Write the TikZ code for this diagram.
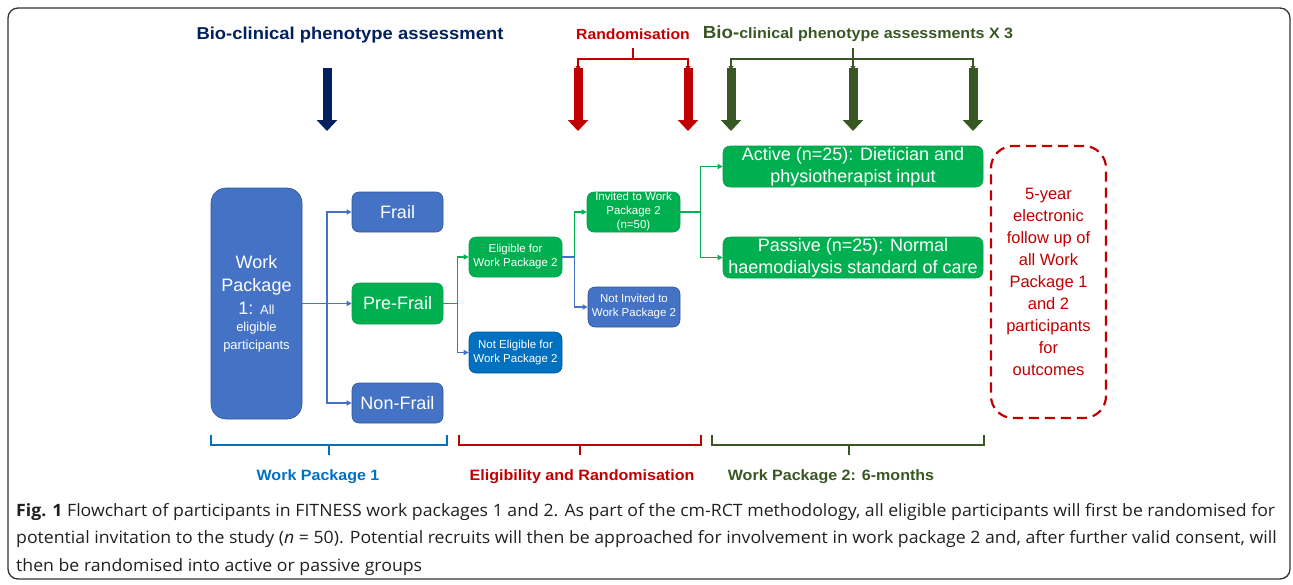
\documentclass[tikz,border=0pt]{standalone}
\usepackage{fontspec}
\setmainfont{Liberation Sans}
\newfontfamily\hdrfont[FakeStretch=1.07]{Liberation Sans}
\newfontfamily\capfont[FakeStretch=1.04]{Open Sans}
\usetikzlibrary{arrows.meta}
\definecolor{boxblue}{RGB}{68,114,196}
\definecolor{brightblue}{RGB}{0,112,192}
\definecolor{boxgreen}{RGB}{0,176,80}
\definecolor{navy}{RGB}{0,32,96}
\definecolor{darkred}{RGB}{192,0,0}
\definecolor{darkgreen}{RGB}{56,87,35}
\definecolor{captext}{RGB}{35,31,32}
\newcommand\fbig{\fontsize{18}{18}\selectfont}
\newcommand\fmid{\fontsize{18}{22}\selectfont}
\newcommand\fred{\fontsize{16.5}{22}\selectfont}
\newcommand\fsml{\fontsize{13}{18}\selectfont}
\newcommand\ftiny{\fontsize{11.5}{14}\selectfont}
\begin{document}
\begin{tikzpicture}[x=1pt,y=-1pt]
\tikzstyle{every node}=[inner sep=0pt]
\tikzstyle{box}=[rectangle,rounded corners=7pt,text=white,align=center,line width=0.6pt]
\tikzstyle{bluebox}=[box,fill=boxblue,draw=boxblue!75!black]
\tikzstyle{greenbox}=[box,fill=boxgreen,draw=boxgreen!90!black]
\tikzstyle{brightbox}=[box,fill=brightblue,draw=brightblue!80!black]
\tikzstyle{link}=[line width=1.6pt,-{Triangle[length=5pt,width=5pt]}]
\tikzstyle{fat}=[line width=9pt,-{Triangle[length=11pt,width=20pt]}]
\tikzstyle{thinarr}=[line width=1.8pt,-{Triangle[length=4pt,width=5pt]}]
\tikzstyle{hdr}=[font=\hdrfont\bfseries\fontsize{15}{18}\selectfont]
\tikzstyle{brace}=[line width=1.6pt]
\useasboundingbox (0,0) rectangle (1293,584);
\draw[black!80,line width=1.3pt,rounded corners=10pt] (8,8) rectangle (1290,579);
\node[hdr,text=navy,font=\hdrfont\bfseries\fontsize{17.2}{20}\selectfont] (bio) at (350,35) {Bio-clinical phenotype assessment};
\node[hdr,text=darkred,font=\hdrfont\bfseries\fontsize{14.7}{18}\selectfont] (rand) at (633,34) {Randomisation};
\node[hdr,text=darkgreen] (bio3) at (858,34) {{\fontsize{17.5}{20}\selectfont Bio-}clinical phenotype assessments X 3};
\coordinate (n1) at (327,68); \coordinate (n2) at (327,131);
\coordinate (r1) at (578,68); \coordinate (r2) at (578,131);
\coordinate (r3) at (688,68); \coordinate (r4) at (688,131);
\coordinate (g1) at (731,68); \coordinate (g2) at (731,131);
\coordinate (g3) at (853,68); \coordinate (g4) at (853,131);
\coordinate (g5) at (973,68); \coordinate (g6) at (973,131);
\draw[fat,navy] (n1) -- (n2);
\draw[fat,darkred] (r1) -- (r2);
\draw[fat,darkred] (r3) -- (r4);
\draw[fat,darkgreen] (g1) -- (g2);
\draw[fat,darkgreen] (g3) -- (g4);
\draw[fat,darkgreen] (g5) -- (g6);
\draw[darkred,line width=1.8pt] (633,48) -- (633,59) coordinate (rj);
\draw[thinarr,darkred] (rj) -| ([yshift=-2pt]r1);
\draw[thinarr,darkred] (rj) -| ([yshift=-2pt]r3);
\draw[thinarr,darkgreen] (853,48) -- ([yshift=-2pt]g3);
\coordinate (gj) at (853,59);
\draw[thinarr,darkgreen] (gj) -| ([yshift=-2pt]g1);
\draw[thinarr,darkgreen] (gj) -| ([yshift=-2pt]g5);
\node[bluebox,minimum width=91pt,minimum height=231pt,rounded corners=15pt,font=\fbig] (wp1) at (256.5,303.5)
  {Work\\[5pt]Package\\[5pt]1: \fsml All\\[-1pt]\fsml eligible\\\fsml participants};
\node[bluebox,minimum width=91pt,minimum height=40pt,font=\fbig] (frail) at (397.5,212) {Frail};
\node[greenbox,minimum width=91pt,minimum height=41pt,font=\fbig] (prefrail) at (397.5,303.5) {Pre-Frail};
\node[bluebox,minimum width=91pt,minimum height=40pt,font=\fbig] (nonfrail) at (397.5,403) {Non-Frail};
\node[greenbox,minimum width=93pt,minimum height=40pt,font=\ftiny] (elig) at (515.5,257) {Eligible for\\Work Package 2};
\node[brightbox,minimum width=93pt,minimum height=41pt,font=\ftiny] (notelig) at (515.5,352.5) {Not Eligible for\\Work Package 2};
\node[greenbox,minimum width=93pt,minimum height=40pt,font=\ftiny] (invited) at (633.5,212) {Invited to Work\\Package 2\\(n=50)};
\node[bluebox,minimum width=92pt,minimum height=40pt,font=\ftiny] (notinv) at (634,307) {Not Invited to\\Work Package 2};
\node[greenbox,minimum width=260pt,minimum height=41pt,font=\fmid] (active) at (853,166.5) {Active (n=25): Dietician and\\physiotherapist input};
\node[greenbox,minimum width=260pt,minimum height=41pt,font=\fmid] (passive) at (853,257.5) {Passive (n=25): Normal\\haemodialysis standard of care};
\node[draw=darkred,dashed,dash pattern=on 10pt off 6pt,line width=2.2pt,rounded corners=22pt,minimum width=115pt,minimum height=272pt,align=center,text=darkred,font=\fred] (followup) at (1048.5,282)
  {5-year\\electronic\\follow up of\\all Work\\Package 1\\and 2\\participants\\for\\outcomes};
\draw[link,boxblue] (wp1.east) -- (327,303.5) coordinate (j0) |- (frail);
\draw[link,boxblue] (j0) -- (prefrail);
\draw[link,boxblue] (j0) |- (nonfrail);
\draw[link,boxgreen] (prefrail.east) -- ++(14,0) coordinate (j1) |- (elig);
\draw[link,boxblue] (j1) |- (notelig);
\draw[link,boxblue] (elig.east) -- ++(12,0) coordinate (j2) |- (notinv);
\draw[link,boxgreen] (j2) |- (invited);
\draw[link,boxgreen] (invited.east) -- ++(20,0) coordinate (j3) |- (active);
\draw[link,boxgreen] (j3) |- (passive);
\draw[brace,brightblue] (211,435) |- (447,445) -- (447,435);
\draw[brace,brightblue] (329,445) -- (329,455);
\draw[brace,darkred] (459,435) |- (701,445) -- (701,435);
\draw[brace,darkred] (580,445) -- (580,455);
\draw[brace,darkgreen] (712,435) |- (984,445) -- (984,435);
\draw[brace,darkgreen] (849,445) -- (849,455);
\node[hdr,text=brightblue] (lwp1) at (318,477) {Work Package 1};
\node[hdr,text=darkred] (lelig) at (582,477) {Eligibility and Randomisation};
\node[hdr,text=darkgreen] (lwp2) at (831,477) {Work Package 2: 6-months};
\node[anchor=north west,align=left,text=captext,font=\capfont\fontsize{17}{27.5}\selectfont] (cap) at (16,503)
  {\textbf{Fig. 1} Flowchart of participants in FITNESS work packages 1 and 2. As part of the cm-RCT methodology, all eligible participants will first be randomised for\\
   potential invitation to the study (\textit{n} = 50). Potential recruits will then be approached for involvement in work package 2 and, after further valid consent, will\\
   then be randomised into active or passive groups};
\end{tikzpicture}
\end{document}
